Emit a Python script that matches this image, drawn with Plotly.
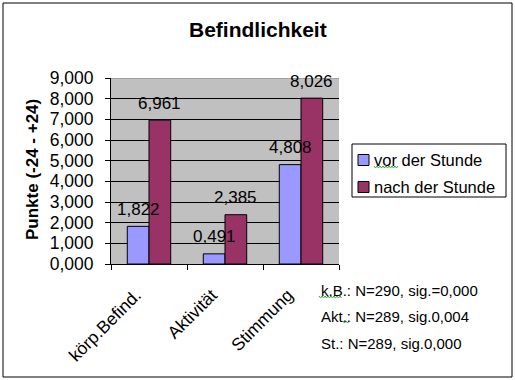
import plotly.graph_objects as go

categories = ["körp.Befind.", "Aktivität", "Stimmung"]
vor = [1.822, 0.491, 4.808]
nach = [6.961, 2.385, 8.026]
series_names = ["vor der Stunde", "nach der Stunde"]
series_colors = ["#9999FF", "#993366"]
notes = ["k.B.: N=290, sig.=0,000", "Akt.: N=289, sig.0,004", "St.: N=289, sig.0,000"]
y_max = 9

FONT = "Liberation Sans, Arial, sans-serif"
W, H = 515, 380
L, R, T, B = 111, 339, 78, 264

def px(x):
    return (x - L) / (R - L)

def py(y):
    return (B - y) / (B - T)

fig = go.Figure()
for name, vals, col in zip(series_names, [vor, nach], series_colors):
    fig.add_trace(go.Bar(x=categories, y=vals, name=name, showlegend=False,
                         marker=dict(color=col, line=dict(color="black", width=1))))

annotations = []
shapes = []
bar_w = (R - L) / 3 / 3.5
for vals, shift in ((vor, -bar_w / 2), (nach, bar_w / 2)):
    for c, v in zip(categories, vals):
        annotations.append(dict(x=c, y=v, xref="x", yref="y", text=f"{v:.3f}".replace(".", ","),
                                showarrow=False, xshift=shift, yshift=17, yanchor="middle",
                                font=dict(family=FONT, size=17, color="black")))

# title
annotations.append(dict(x=px(258), y=py(29), xref="paper", yref="paper", text="<b>Befindlichkeit</b>",
                        showarrow=False, xanchor="center", yanchor="middle",
                        font=dict(family=FONT, size=21, color="black")))
# y axis title
annotations.append(dict(x=px(32), y=py(170), xref="paper", yref="paper", text="<b>Punkte (-24 - +24)</b>",
                        showarrow=False, textangle=-90, xanchor="center", yanchor="middle",
                        font=dict(family=FONT, size=17, color="black")))
# notes
for n, yy in zip(notes, [290, 316, 343]):
    annotations.append(dict(x=px(319), y=py(yy), xref="paper", yref="paper", text=n,
                            showarrow=False, xanchor="left", yanchor="middle",
                            font=dict(family=FONT, size=15, color="black")))

# manual legend
shapes.append(dict(type="rect", xref="paper", yref="paper", x0=px(352), x1=px(506), y0=py(197), y1=py(144),
                   line=dict(color="black", width=1), fillcolor="white", layer="above"))
for name, col, yc in zip(series_names, series_colors, [160, 187]):
    shapes.append(dict(type="rect", xref="paper", yref="paper", x0=px(358), x1=px(369),
                       y0=py(yc + 5.5), y1=py(yc - 5.5),
                       line=dict(color="black", width=1), fillcolor=col, layer="above"))
    annotations.append(dict(x=px(372), y=py(yc), xref="paper", yref="paper", text=name,
                            showarrow=False, xanchor="left", yanchor="middle",
                            font=dict(family=FONT, size=16.5, color="black")))

# spell-check squiggles
def squiggle(x0, x1, y):
    pts = []
    x = x0
    up = True
    while x <= x1:
        pts.append((px(x), py(y - 1 if up else y + 1)))
        up = not up
        x += 1.5
    return "M " + " L ".join(f"{a},{b}" for a, b in pts)

for x0, x1, yy in [(319, 342, 297), (343, 349, 322), (374, 398, 167)]:
    shapes.append(dict(type="path", xref="paper", yref="paper", path=squiggle(x0, x1, yy),
                       line=dict(color="#33AA33", width=1), layer="above"))

# outer border
shapes.append(dict(type="rect", xref="paper", yref="paper", x0=px(3), x1=px(512), y0=py(377), y1=py(3),
                   line=dict(color="black", width=1), fillcolor="rgba(0,0,0,0)", layer="below"))
# plot-area top border (gray)
shapes.append(dict(type="line", xref="paper", yref="y", x0=0, x1=1, y0=y_max, y1=y_max,
                   line=dict(color="#808080", width=1), layer="above"))

fig.update_layout(
    width=W, height=H,
    margin=dict(l=L, r=W - R, t=T, b=H - B, pad=0, autoexpand=False),
    paper_bgcolor="white", plot_bgcolor="#C0C0C0",
    separators=",.",
    barmode="group", bargap=1.5 / 3.5, bargroupgap=0,
    showlegend=False,
    font=dict(family=FONT, color="black"),
    annotations=annotations,
    shapes=shapes,
    xaxis=dict(showline=True, linecolor="black", linewidth=1, ticks="outside", ticklen=5,
               tickcolor="black", tickson="boundaries", showgrid=False, tickangle=-45,
               ticklabelshift=-13, ticklabelstandoff=13,
               tickfont=dict(family=FONT, size=17.5, color="black")),
    yaxis=dict(range=[0, y_max], dtick=1, tickformat=".3f", showline=True, linecolor="black", linewidth=1,
               ticks="outside", ticklen=5, tickcolor="black", showgrid=True, gridcolor="black",
               gridwidth=1, zeroline=False, ticklabelstandoff=8,
               tickfont=dict(family=FONT, size=17.5, color="black")),
)

fig.write_html("out.html", config={"displayModeBar": False},
               post_script="document.body.style.margin='0';")
